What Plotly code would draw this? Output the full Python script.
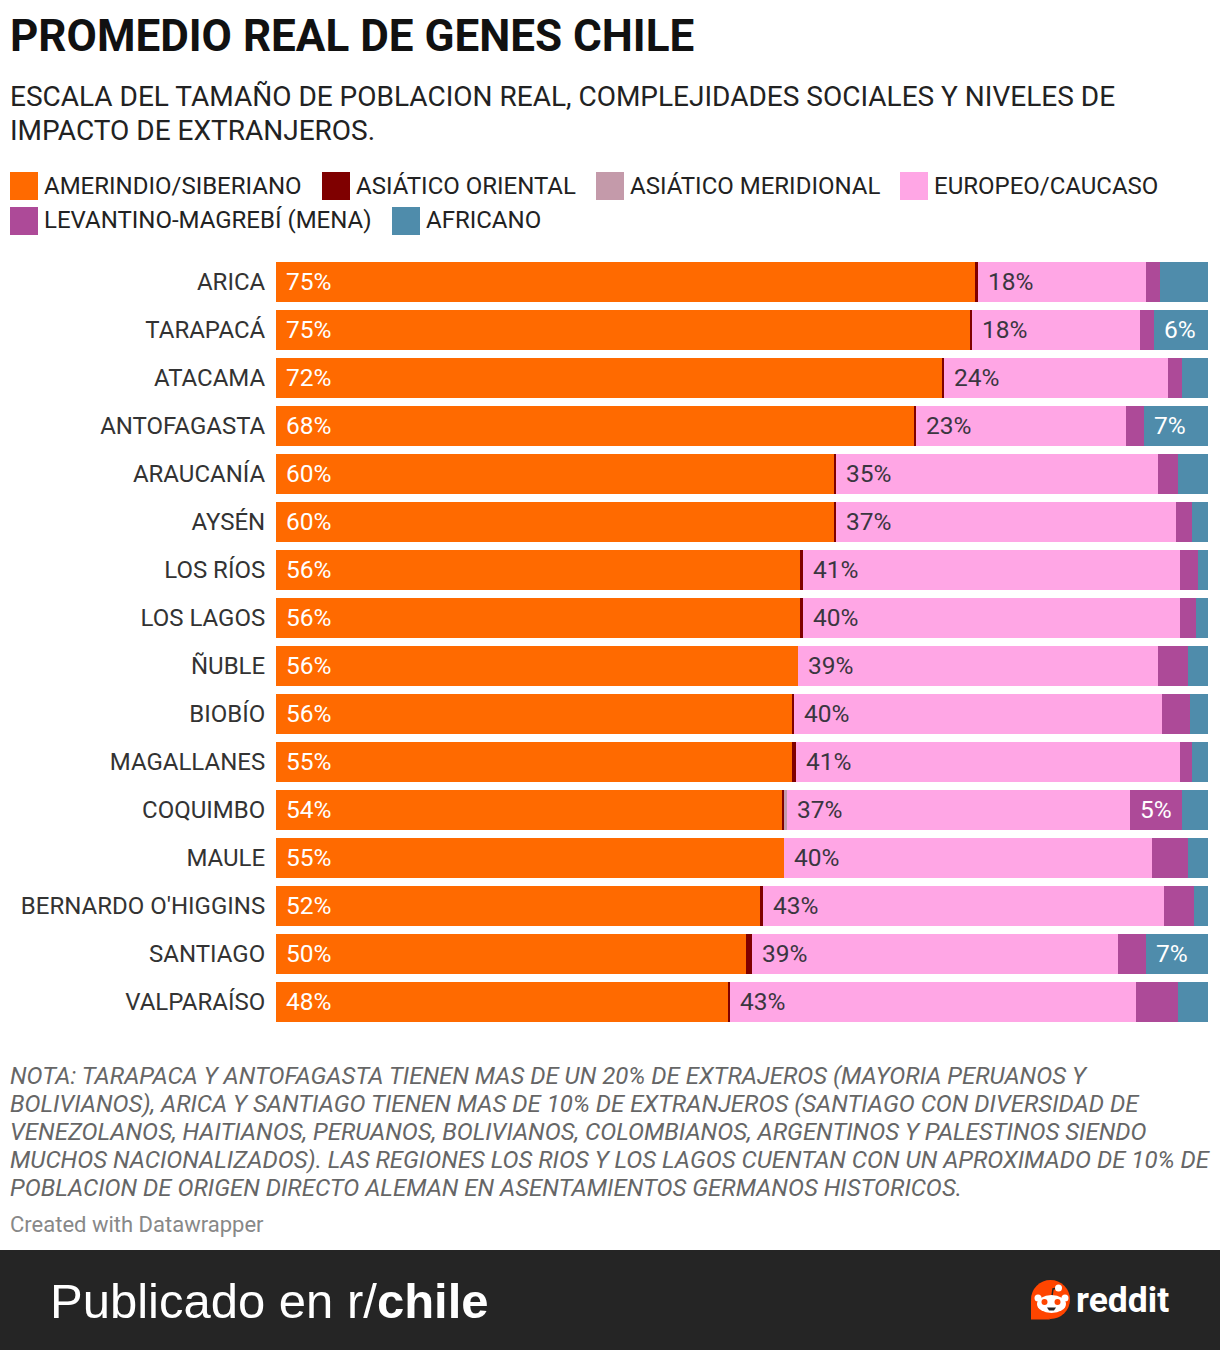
# Promedio real de genes Chile - barras apiladas
import plotly.graph_objects as go

WIDTH = 1220
HEIGHT = 1350

regiones = ['ARICA', 'TARAPACÁ', 'ATACAMA', 'ANTOFAGASTA', 'ARAUCANÍA', 'AYSÉN', 'LOS RÍOS', 'LOS LAGOS',
            'ÑUBLE', 'BIOBÍO', 'MAGALLANES', 'COQUIMBO', 'MAULE', "BERNARDO O'HIGGINS", 'SANTIAGO', 'VALPARAÍSO']

amerindio = [75.1, 74.5, 71.5, 68.5, 59.9, 59.9, 56.3, 56.3, 56.0, 55.4, 55.4, 54.3, 54.5, 52.0, 50.4, 48.5]
asiatico_oriental = [0.2, 0.2, 0.2, 0.2, 0.2, 0.2, 0.2, 0.2, 0, 0.2, 0.4, 0.25, 0, 0.2, 0.7, 0.2]
asiatico_meridional = [0, 0, 0, 0, 0, 0, 0, 0, 0, 0, 0, 0.25, 0, 0, 0, 0]
europeo = [18.1, 18.0, 24.0, 22.5, 34.5, 36.5, 40.5, 40.5, 38.6, 39.5, 41.2, 36.8, 39.5, 43.1, 39.2, 43.6]
mena = [1.5, 1.5, 1.5, 1.9, 2.2, 1.7, 1.9, 1.7, 3.2, 3.0, 1.3, 5.6, 3.9, 3.2, 3.0, 4.5]
africano = [5.1, 5.8, 2.8, 6.9, 3.2, 1.7, 1.1, 1.3, 2.2, 1.9, 1.7, 2.8, 2.1, 1.5, 6.7, 3.2]

# etiquetas tal como aparecen en el grafico (None = sin etiqueta)
etiq_amerindio = ['75%', '75%', '72%', '68%', '60%', '60%', '56%', '56%', '56%', '56%', '55%', '54%', '55%', '52%', '50%', '48%']
etiq_europeo = ['18%', '18%', '24%', '23%', '35%', '37%', '41%', '40%', '39%', '40%', '41%', '37%', '40%', '43%', '39%', '43%']
etiq_mena = [None] * 11 + ['5%'] + [None] * 4
etiq_africano = [None, '6%', None, '7%'] + [None] * 10 + ['7%', None]

series = [
    ('AMERINDIO/SIBERIANO', amerindio, '#ff6a00'),
    ('ASIÁTICO ORIENTAL', asiatico_oriental, '#7f0000'),
    ('ASIÁTICO MERIDIONAL', asiatico_meridional, '#c49aaa'),
    ('EUROPEO/CAUCASO', europeo, '#ffa6e5'),
    ('LEVANTINO-MAGREBÍ (MENA)', mena, '#ad4a98'),
    ('AFRICANO', africano, '#4f8cab'),
]

nota = [
    'NOTA: TARAPACA Y ANTOFAGASTA TIENEN MAS DE UN 20% DE EXTRAJEROS (MAYORIA PERUANOS Y',
    'BOLIVIANOS), ARICA Y SANTIAGO TIENEN MAS DE 10% DE EXTRANJEROS (SANTIAGO CON DIVERSIDAD DE',
    'VENEZOLANOS, HAITIANOS, PERUANOS, BOLIVIANOS, COLOMBIANOS, ARGENTINOS Y PALESTINOS SIENDO',
    'MUCHOS NACIONALIZADOS). LAS REGIONES LOS RIOS Y LOS LAGOS CUENTAN CON UN APROXIMADO DE 10% DE',
    'POBLACION DE ORIGEN DIRECTO ALEMAN EN ASENTAMIENTOS GERMANOS HISTORICOS.',
]


def px(x):
    return x / WIDTH


def py(y):
    return 1 - y / HEIGHT


def texto(x, y, text, size, color='#222222', family='Roboto', xanchor='left'):
    # las anotaciones llevan 2px de relleno, se descuentan aqui
    return dict(xref='paper', yref='paper', x=px(x - 2), y=py(y), text=text, showarrow=False,
                xanchor=xanchor, yanchor='middle', align='left',
                font=dict(family=family, size=size, color=color))


def caja(x0, y0, x1, y1, color, tipo='rect'):
    return dict(type=tipo, xref='paper', yref='paper', x0=px(x0), x1=px(x1), y0=py(y1), y1=py(y0),
                fillcolor=color, line_width=0)


def trazo(puntos, fill=None, line=None, width=0):
    d = 'M ' + ' L '.join(f'{px(x):.5f},{py(y):.5f}' for x, y in puntos)
    if fill:
        d += ' Z'
    return dict(type='path', xref='paper', yref='paper', path=d, fillcolor=fill,
                line=dict(color=line, width=width))


fig = go.Figure()
for nombre, valores, color in series:
    fig.add_trace(go.Bar(y=regiones, x=valores, name=nombre, orientation='h',
                         marker=dict(color=color, line_width=0), showlegend=False))

annotations = []
shapes = []

# etiquetas de valor, ancladas al inicio de cada segmento
for i in range(len(regiones)):
    x_ame = amerindio[i]
    x_eur = x_ame + asiatico_oriental[i] + asiatico_meridional[i]
    x_men = x_eur + europeo[i]
    x_afr = x_men + mena[i]
    for x0, etiqueta, color in [(0, etiq_amerindio[i], '#ffffff'), (x_eur, etiq_europeo[i], '#3a3640'),
                                (x_men, etiq_mena[i], '#ffffff'), (x_afr, etiq_africano[i], '#ffffff')]:
        if etiqueta:
            annotations.append(dict(xref='x', yref='y', x=x0, y=regiones[i], text=etiqueta, showarrow=False,
                                    xanchor='left', yanchor='middle', xshift=8, yshift=1,
                                    font=dict(family='Roboto', size=24.5, color=color)))

# subtitulo
annotations.append(texto(10, 96, 'ESCALA DEL TAMAÑO DE POBLACION REAL, COMPLEJIDADES SOCIALES Y NIVELES DE', 28))
annotations.append(texto(10, 130, 'IMPACTO DE EXTRANJEROS.', 28))

# leyenda
leyenda_pos = [(10, 186), (322, 186), (596, 186), (900, 186), (10, 221), (392, 221)]
for (nombre, _, color), (x, y) in zip(series, leyenda_pos):
    shapes.append(caja(x, y - 14, x + 28, y + 14, color))
    annotations.append(texto(x + 34, y - 0.5 if y < 200 else y - 1, nombre, 24))

# nota
for n, linea in enumerate(nota):
    annotations.append(texto(10, 1076 + 28 * n, f'<i>{linea}</i>', 24, color='#666666'))
annotations.append(texto(10, 1224.5, 'Created with Datawrapper', 22, color='#888888'))

# franja inferior
shapes.append(caja(0, 1250, WIDTH, HEIGHT, '#252525'))
annotations.append(texto(50, 1301, 'Publicado en r/<b>chile</b>', 49, color='#ffffff', family='Liberation Sans'))

# logo reddit
shapes.append(caja(1031, 1280, 1070, 1319, '#ff4500', 'circle'))
shapes.append(trazo([(1031, 1300), (1031, 1319.5), (1050, 1319.5)], fill='#ff4500'))
shapes.append(trazo([(1052, 1296), (1053, 1289), (1058, 1288)], line='#252525', width=1.5))
shapes.append(caja(1055, 1284.5, 1062, 1291.5, '#ffffff', 'circle'))
shapes.append(caja(1034.5, 1294.5, 1041.5, 1301.5, '#ffffff', 'circle'))
shapes.append(caja(1061.5, 1294.5, 1068.5, 1301.5, '#ffffff', 'circle'))
shapes.append(caja(1037, 1295, 1066, 1313, '#ffffff', 'circle'))
shapes.append(caja(1041.5, 1299, 1047.5, 1305, '#ff4500', 'circle'))
shapes.append(caja(1054.5, 1299, 1060.5, 1305, '#ff4500', 'circle'))
shapes.append(trazo([(1047, 1307.5), (1056, 1307.5), (1054, 1310.5), (1049, 1310.5)], fill='#252525'))
annotations.append(texto(1076, 1300, '<b>reddit</b>', 35.5, color='#ffffff', family='Roboto'))

fig.update_layout(
    width=WIDTH, height=HEIGHT, autosize=False,
    margin=dict(l=0, r=0, t=0, b=0),
    paper_bgcolor='white', plot_bgcolor='white',
    barmode='stack', bargap=8 / 48,
    title=dict(text='<b>PROMEDIO REAL DE GENES CHILE</b>', x=px(10), xanchor='left', y=py(35.5), yanchor='middle',
               font=dict(family='Roboto', size=44, color='#111111')),
    xaxis=dict(domain=[px(276), px(1208)], range=[0, 100], visible=False, fixedrange=True),
    yaxis=dict(domain=[py(1026), py(258)], autorange='reversed', showgrid=False, showline=False, zeroline=False,
               ticks='outside', ticklen=5, tickcolor='rgba(0,0,0,0)',
               tickfont=dict(family='Roboto', size=24, color='#333333')),
    annotations=annotations,
    shapes=shapes,
    showlegend=False,
)

fig.write_html("out.html", config={'displayModeBar': False},
               post_script="document.body.style.margin='0';")
